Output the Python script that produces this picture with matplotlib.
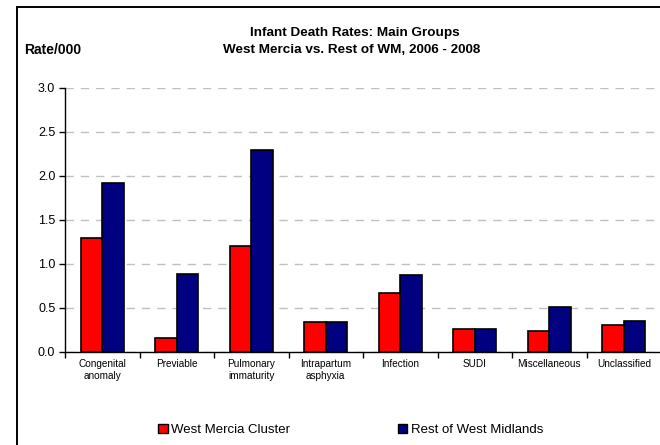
import numpy as np
import matplotlib
matplotlib.use('Agg')
import matplotlib.pyplot as plt
from matplotlib.patches import Rectangle, Patch

plt.rcParams['font.family'] = ['Liberation Sans', 'DejaVu Sans']

categories = ['Congenital\nanomaly', 'Previable', 'Pulmonary\nimmaturity', 'Intrapartum\nasphyxia',
              'Infection', 'SUDI', 'Miscellaneous', 'Unclassified']
west_mercia = [1.29, 0.155, 1.21, 0.34, 0.67, 0.26, 0.24, 0.31]
rest_wm = [1.92, 0.89, 2.30, 0.345, 0.87, 0.265, 0.51, 0.35]
series_labels = ['West Mercia Cluster', 'Rest of West Midlands']
yticks = [0.0, 0.5, 1.0, 1.5, 2.0, 2.5, 3.0]

W, H = 660, 445
fig = plt.figure(figsize=(W / 100, H / 100), dpi=100)

# outer chart border (runs off the right and bottom edges)
fig.patches.append(Rectangle((17 / W, -0.1), 1.2, 1 - 7 / H + 0.1, transform=fig.transFigure,
                             fill=False, edgecolor='black', linewidth=1.4))

ax = fig.add_axes([65 / W, 1 - 352 / H, 596 / W, 264 / H])
x = np.arange(len(categories))
w = 0.286
ax.bar(x - w / 2, west_mercia, w, color='#FF0000', edgecolor='black', linewidth=1.2, zorder=3)
ax.bar(x + w / 2, rest_wm, w, color='#000080', edgecolor='black', linewidth=1.2, zorder=3)

ax.set_xlim(-0.5, len(categories) - 0.5)
ax.set_ylim(0, 3.0)
ax.set_yticks(yticks)
ax.set_yticklabels([f'{v:.1f}' for v in yticks], fontsize=9)
ax.yaxis.grid(True, color='#C0C0C0', linestyle=(0, (6, 5)), linewidth=1)
ax.set_axisbelow(True)

ax.set_xticks(np.arange(len(categories) + 1) - 0.5)
ax.set_xticklabels([])
ax.set_xticks(x, minor=True)
ax.set_xticklabels(categories, minor=True, fontsize=7.2, linespacing=1.2)
ax.tick_params(axis='x', which='minor', length=0, pad=5)
ax.tick_params(axis='x', which='major', length=4, width=1)
ax.tick_params(axis='y', length=4, width=1, pad=3)

for s in ['top', 'right']:
    ax.spines[s].set_visible(False)
for s in ['left', 'bottom']:
    ax.spines[s].set_linewidth(1)

fig.text(355 / W, 1 - 33 / H, 'Infant Death Rates: Main Groups', ha='center', va='center',
         fontsize=9.7, fontweight='bold')
fig.text(352 / W, 1 - 50 / H, 'West Mercia vs. Rest of WM, 2006 - 2008', ha='center', va='center',
         fontsize=9.7, fontweight='bold')
fig.text(24 / W, 1 - 50 / H, 'Rate/000', ha='left', va='center', fontsize=10, fontweight='bold')

handles = [Patch(facecolor='#FF0000', edgecolor='black', linewidth=1),
           Patch(facecolor='#000080', edgecolor='black', linewidth=1)]
fig.legend(handles, series_labels, loc='center left', bbox_to_anchor=(146 / W, 1 - 430 / H),
           ncol=2, frameon=False, fontsize=9.5, handlelength=0.75, handleheight=0.75,
           handletextpad=0.25, columnspacing=8.15)

fig.savefig('out.png', dpi=100)
